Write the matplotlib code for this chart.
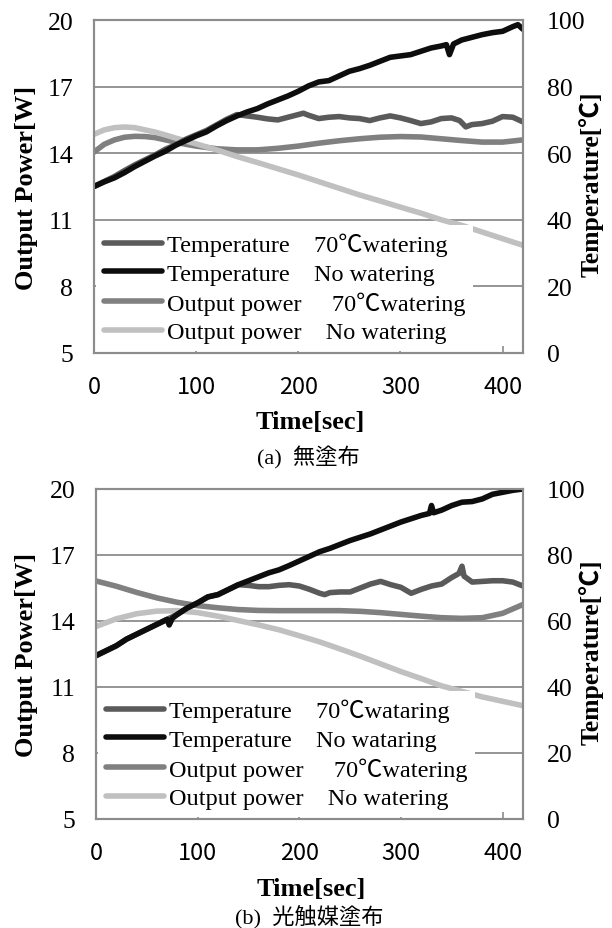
import matplotlib
matplotlib.use('Agg')
import matplotlib.pyplot as plt

SERIF = ['Liberation Serif', 'Noto Sans CJK JP']
SANS = ['Noto Sans CJK JP', 'DejaVu Sans']

# ---------------- data ----------------
x_ticks = [0, 100, 200, 300, 400]
x_ticklabels = ['0', '100', '200', '300', '400']
p_ticks = [5, 8, 11, 14, 17, 20]
p_ticklabels = ['5', '8', '11', '14', '17', '20']
t_ticks = [0, 20, 40, 60, 80, 100]
t_ticklabels = ['0', '20', '40', '60', '80', '100']

# Panel (a)
a_t70_time = [0, 10, 20, 30, 40, 50, 60, 70, 80, 90, 100, 110, 120, 130, 140, 150, 160, 170, 180, 190,
              200, 205, 210, 220, 230, 240, 250, 260, 270, 280, 290, 300, 310, 320, 330, 340, 350, 358,
              364, 370, 380, 390, 400, 410, 420]
a_t70_val = [50, 51.5, 53, 54.8, 56.5, 58, 59.5, 61.2, 62.5, 64.2, 65.5, 66.8, 68.5, 70.2, 71.6, 71.2,
             70.8, 70.3, 70, 70.8, 71.6, 72, 71.4, 70.4, 70.8, 71, 70.6, 70.4, 69.8, 70.6, 71.2, 70.6,
             69.8, 68.9, 69.4, 70.4, 70.6, 69.8, 67.9, 68.6, 68.9, 69.6, 71, 70.8, 69.4]
a_tno_time = [0, 10, 20, 30, 40, 50, 60, 70, 80, 90, 100, 110, 120, 130, 140, 150, 160, 170, 180, 190,
              200, 210, 220, 230, 240, 250, 260, 270, 280, 290, 300, 310, 320, 330, 340, 345, 348, 352,
              360, 370, 380, 390, 400, 410, 415, 420]
a_tno_val = [50, 51.4, 52.6, 54.2, 56, 57.6, 59.2, 60.6, 62.4, 63.8, 65.2, 66.4, 68.2, 69.8, 71.2, 72.4,
             73.4, 74.8, 76, 77.2, 78.6, 80.2, 81.4, 81.8, 83.2, 84.6, 85.4, 86.4, 87.6, 88.8, 89.2, 89.6,
             90.6, 91.6, 92.2, 92.6, 89.6, 92.8, 94, 94.8, 95.6, 96.2, 96.6, 98, 98.6, 97.2]
a_p70_time = [0, 10, 20, 30, 40, 50, 60, 70, 80, 90, 100, 120, 140, 160, 180, 200, 220, 240, 260, 280,
              300, 320, 340, 360, 380, 400, 420]
a_p70_val = [14.05, 14.4, 14.6, 14.72, 14.76, 14.75, 14.7, 14.6, 14.5, 14.4, 14.32, 14.2, 14.15, 14.15,
             14.22, 14.32, 14.45, 14.56, 14.65, 14.72, 14.75, 14.73, 14.65, 14.57, 14.5, 14.5, 14.6]
a_pno_time = [0, 10, 20, 30, 40, 50, 60, 70, 80, 90, 100, 120, 140, 160, 180, 200, 220, 240, 260, 280,
              300, 320, 340, 360, 380, 400, 420]
a_pno_val = [14.85, 15.05, 15.15, 15.18, 15.15, 15.05, 14.95, 14.82, 14.68, 14.55, 14.42, 14.15, 13.85,
             13.58, 13.3, 13.02, 12.72, 12.42, 12.12, 11.85, 11.57, 11.3, 11.0, 10.75, 10.45, 10.15, 9.85]
a_labels = ['Temperature\u300070\u2103watering', 'Temperature\u3000No watering',
            'Output power\u3000 70\u2103watering', 'Output power\u3000No watering']
a_caption = '(a)  無塗布'

# Panel (b)
b_t70_time = [0, 10, 20, 30, 40, 50, 60, 70, 80, 90, 100, 110, 120, 130, 140, 150, 160, 170, 180, 190,
              200, 210, 220, 225, 230, 240, 250, 260, 270, 280, 290, 300, 310, 320, 330, 340, 350, 357,
              360, 362, 370, 380, 390, 400, 410, 420]
b_t70_val = [49.5, 51, 52.5, 54.5, 56, 57.5, 59, 60.5, 62, 64, 65.5, 67.3, 68, 69.5, 71, 70.8, 70.4,
             70.4, 70.8, 71, 70.6, 69.6, 68.4, 68, 68.6, 68.8, 68.8, 70, 71.2, 72, 71, 70.2, 68.4, 69.6,
             70.6, 71.2, 73.2, 74.4, 76.6, 73.6, 71.8, 72, 72.2, 72.2, 71.8, 70.6]
b_tno_time = [0, 10, 20, 30, 40, 50, 60, 70, 72, 75, 80, 90, 100, 110, 120, 130, 140, 150, 160, 170, 180,
              190, 200, 210, 220, 230, 240, 250, 260, 270, 280, 290, 300, 310, 320, 328, 330, 332, 340,
              350, 360, 370, 380, 390, 400, 410, 420]
b_tno_val = [49.5, 51, 52.5, 54.5, 56, 57.5, 59, 60.5, 58.8, 60.8, 62, 64, 65.5, 67.3, 68, 69.5, 71,
             72.2, 73.4, 74.6, 75.5, 76.8, 78.2, 79.6, 81, 82, 83.2, 84.4, 85.4, 86.4, 87.6, 88.8, 90,
             91, 92, 92.6, 95, 92.8, 93.6, 95, 96, 96.2, 97, 98.4, 99, 99.6, 100]
b_p70_time = [0, 20, 40, 60, 80, 100, 120, 140, 160, 180, 200, 220, 240, 260, 280, 300, 320, 340, 360,
              380, 400, 420]
b_p70_val = [15.82, 15.58, 15.3, 15.05, 14.85, 14.7, 14.6, 14.52, 14.48, 14.47, 14.47, 14.47, 14.47,
             14.44, 14.38, 14.3, 14.22, 14.15, 14.12, 14.15, 14.35, 14.75]
b_pno_time = [0, 20, 40, 60, 80, 100, 120, 140, 160, 180, 200, 220, 240, 260, 280, 300, 320, 340, 360,
              380, 400, 420]
b_pno_val = [13.75, 14.1, 14.33, 14.45, 14.47, 14.38, 14.22, 14.02, 13.82, 13.6, 13.33, 13.05, 12.73,
             12.4, 12.05, 11.7, 11.38, 11.05, 10.8, 10.55, 10.35, 10.15]
b_labels = ['Temperature\u300070\u2103wataring', 'Temperature\u3000No wataring',
            'Output power\u3000 70\u2103watering', 'Output power\u3000No watering']
b_caption = '(b)  光触媒塗布'

x_label = 'Time[sec]'
p_label = 'Output Power[W]'
t_label = 'Temperature[\u2103]'

# ---------------- style ----------------
C_T70 = '#5a5a5a'
C_TNO = '#0d0d0d'
C_P70 = '#808080'
C_PNO = '#c0c0c0'
GRID = '#8c8c8c'
LW = 4.0

W, H = 612, 929
fig = plt.figure(figsize=(W / 100, H / 100), dpi=100)


def px(x, y):
    return x / W, 1 - y / H


def panel(left, right, top, bottom, t70, tno, p70, pno, labels, caption, xlab_off, cap_off):
    ax = fig.add_axes([left / W, 1 - bottom / H, (right - left) / W, (bottom - top) / H])
    ax2 = ax.twinx()
    ax.set_xlim(0, 420)
    ax.set_ylim(5, 20)
    ax2.set_ylim(0, 100)

    lp70, = ax.plot(p70[0], p70[1], color=C_P70, lw=LW, solid_capstyle='round')
    lpno, = ax.plot(pno[0], pno[1], color=C_PNO, lw=LW, solid_capstyle='round')
    lt70, = ax2.plot(t70[0], t70[1], color=C_T70, lw=LW, solid_capstyle='round')
    ltno, = ax2.plot(tno[0], tno[1], color=C_TNO, lw=LW, solid_capstyle='round')

    ax.set_yticks(p_ticks)
    ax.set_yticklabels(p_ticklabels, fontfamily=SERIF, fontsize=18.5)
    ax2.set_yticks(t_ticks)
    ax2.set_yticklabels(t_ticklabels, fontfamily=SERIF, fontsize=18.5)
    ax.set_xticks(x_ticks)
    ax.set_xticklabels(x_ticklabels, fontfamily=SANS, fontsize=17)
    ax.tick_params(axis='y', length=0, pad=15)
    ax2.tick_params(axis='y', length=0, pad=17)
    ax.tick_params(axis='x', direction='in', length=5, width=1.2, color=GRID, pad=16)
    ax.yaxis.grid(True, color=GRID, lw=1.3)
    ax.set_axisbelow(True)
    for a in (ax, ax2):
        for s in a.spines.values():
            s.set_color(GRID)
            s.set_linewidth(1.5)

    ax2.legend([lt70, ltno, lp70, lpno], labels, loc='lower left',
               bbox_to_anchor=(0.0, 0.0), borderaxespad=0.1,
               prop={'family': SERIF, 'size': 17.5}, frameon=True, fancybox=False,
               framealpha=1, facecolor='white', edgecolor='none',
               handlelength=2.4, handletextpad=0.2, labelspacing=0.27,
               borderpad=0.3)

    cx = (left + right) / 2
    fig.text(*px(cx + 2, bottom + xlab_off), x_label, ha='center', va='center',
             fontfamily=SERIF, fontweight='bold', fontsize=19)
    fig.text(*px(cx, bottom + cap_off), caption, ha='center', va='center',
             fontfamily=SERIF, fontsize=16)
    fig.text(*px(27, (top + bottom) / 2), p_label, ha='center', va='center', rotation=90,
             fontfamily=SERIF, fontweight='bold', fontsize=19)
    fig.text(*px(591, (top + bottom) / 2 - 3), t_label, ha='center', va='center', rotation=90,
             fontfamily=SERIF, fontweight='bold', fontsize=18.5)


panel(94, 523, 21, 354,
      (a_t70_time, a_t70_val), (a_tno_time, a_tno_val),
      (a_p70_time, a_p70_val), (a_pno_time, a_pno_val), a_labels, a_caption, 69, 104)
panel(96, 523, 490, 820,
      (b_t70_time, b_t70_val), (b_tno_time, b_tno_val),
      (b_p70_time, b_p70_val), (b_pno_time, b_pno_val), b_labels, b_caption, 70, 98)

fig.savefig('out.png', dpi=100)
